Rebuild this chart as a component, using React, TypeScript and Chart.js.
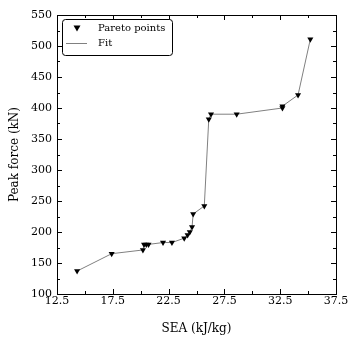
import React, { useEffect, useRef } from "react";
import { Chart, registerables } from "chart.js";

Chart.register(...registerables);

const seaValues = [14.3, 17.4, 20.2, 20.3, 20.5, 20.7, 22.0, 22.8, 23.9, 24.2, 24.4, 24.6, 24.7, 25.7, 26.1, 26.3, 28.6, 32.7, 32.7, 34.1, 35.2];
const forceValues = [137, 165, 171, 180, 180, 180, 183, 183, 190, 195, 200, 208, 229, 242, 382, 390, 390, 400, 403, 421, 511];
const xTickValues = [12.5, 17.5, 22.5, 27.5, 32.5, 37.5];
const yTickValues = [100, 150, 200, 250, 300, 350, 400, 450, 500, 550];
const legendLabels = ["Pareto points", "Fit"];
const xTitle = "SEA (kJ/kg)";
const yTitle = "Peak force (kN)";

const FONT = "'DejaVu Serif', 'Liberation Serif', serif";

const framePlugin = {
  id: "frame",
  afterDraw(chart: any) {
    const { ctx, chartArea: a, scales } = chart;
    const xs = scales.x;
    const ys = scales.y;
    ctx.save();
    ctx.strokeStyle = "#000";
    ctx.lineWidth = 1;
    ctx.strokeRect(Math.round(a.left) + 0.5, Math.round(a.top) + 0.5, Math.round(a.right - a.left), Math.round(a.bottom - a.top));
    ctx.beginPath();
    for (let v = 12.5; v <= 37.5001; v += 2.5) {
      const major = xTickValues.some((t) => Math.abs(t - v) < 1e-6);
      const len = major ? 5 : 3;
      const px = Math.round(xs.getPixelForValue(v)) + 0.5;
      ctx.moveTo(px, a.bottom);
      ctx.lineTo(px, a.bottom - len);
      ctx.moveTo(px, a.top);
      ctx.lineTo(px, a.top + len);
    }
    for (let v = 100; v <= 550.001; v += 25) {
      const major = yTickValues.some((t) => Math.abs(t - v) < 1e-6);
      const len = major ? 5 : 3;
      const py = Math.round(ys.getPixelForValue(v)) + 0.5;
      ctx.moveTo(a.left, py);
      ctx.lineTo(a.left + len, py);
      ctx.moveTo(a.right, py);
      ctx.lineTo(a.right - len, py);
    }
    ctx.stroke();

    // legend
    const lx = a.left + 5;
    const ly = a.top + 4;
    const lw = 110;
    const lh = 36;
    ctx.beginPath();
    const r = 3;
    ctx.moveTo(lx + r + 0.5, ly + 0.5);
    ctx.lineTo(lx + lw - r + 0.5, ly + 0.5);
    ctx.quadraticCurveTo(lx + lw + 0.5, ly + 0.5, lx + lw + 0.5, ly + r + 0.5);
    ctx.lineTo(lx + lw + 0.5, ly + lh - r + 0.5);
    ctx.quadraticCurveTo(lx + lw + 0.5, ly + lh + 0.5, lx + lw - r + 0.5, ly + lh + 0.5);
    ctx.lineTo(lx + r + 0.5, ly + lh + 0.5);
    ctx.quadraticCurveTo(lx + 0.5, ly + lh + 0.5, lx + 0.5, ly + lh - r + 0.5);
    ctx.lineTo(lx + 0.5, ly + r + 0.5);
    ctx.quadraticCurveTo(lx + 0.5, ly + 0.5, lx + r + 0.5, ly + 0.5);
    ctx.fillStyle = "#fff";
    ctx.fill();
    ctx.stroke();

    // marker
    const mx = lx + 15;
    const my = ly + 9;
    ctx.beginPath();
    ctx.moveTo(mx - 3.5, my - 2.5);
    ctx.lineTo(mx + 3.5, my - 2.5);
    ctx.lineTo(mx, my + 3.5);
    ctx.closePath();
    ctx.fillStyle = "#000";
    ctx.fill();
    // fit line
    ctx.beginPath();
    ctx.strokeStyle = "#808080";
    ctx.moveTo(lx + 4, ly + 24.5);
    ctx.lineTo(lx + 25, ly + 24.5);
    ctx.stroke();

    ctx.fillStyle = "#000";
    ctx.font = `10px ${FONT}`;
    ctx.textBaseline = "middle";
    ctx.textAlign = "left";
    ctx.fillText(legendLabels[0], lx + 36, my);
    ctx.fillText(legendLabels[1], lx + 36, ly + 24);
    ctx.restore();
  },
};

export default function App() {
  const ref = useRef<HTMLCanvasElement | null>(null);
  useEffect(() => {
    document.body.style.margin = "0";
    const pts = seaValues.map((x, i) => ({ x, y: forceValues[i] }));
    const chart = new Chart(ref.current as HTMLCanvasElement, {
      type: "scatter",
      data: {
        datasets: [
          {
            label: legendLabels[1],
            data: pts,
            showLine: true,
            borderColor: "#808080",
            borderWidth: 1,
            pointRadius: 0,
            order: 2,
          },
          {
            label: legendLabels[0],
            data: pts,
            showLine: false,
            pointStyle: "triangle",
            rotation: 180,
            pointRadius: 3.5,
            backgroundColor: "#000",
            borderColor: "#000",
            borderWidth: 0,
            order: 1,
          },
        ],
      },
      options: {
        responsive: false,
        animation: false,
        layout: { padding: { top: 15, right: 14, left: 8, bottom: 14 } },
        plugins: { legend: { display: false }, tooltip: { enabled: false } },
        scales: {
          x: {
            type: "linear",
            min: 12.5,
            max: 37.5,
            afterFit: (s: any) => {
              s.height = 42;
            },
            ticks: {
              stepSize: 2.5,
              autoSkip: false,
              maxRotation: 0,
              padding: 1,
              color: "#000",
              font: { family: FONT, size: 11 },
              callback: (v: any) => {
                const n = Number(v);
                return xTickValues.some((t) => Math.abs(t - n) < 1e-6) ? n.toFixed(1) : "";
              },
            },
            grid: { display: false, drawTicks: false },
            border: { display: false },
            title: { display: true, text: xTitle, color: "#000", font: { family: FONT, size: 12 }, padding: { top: 4, bottom: 0 } },
          },
          y: {
            type: "linear",
            min: 100,
            max: 550,
            afterFit: (s: any) => {
              s.width = 49;
            },
            ticks: {
              stepSize: 25,
              autoSkip: false,
              padding: 5,
              color: "#000",
              font: { family: FONT, size: 11 },
              callback: (v: any) => {
                const n = Number(v);
                return yTickValues.includes(n) ? String(n) : "";
              },
            },
            grid: { display: false, drawTicks: false },
            border: { display: false },
            title: { display: true, text: yTitle, color: "#000", font: { family: FONT, size: 12 }, padding: { top: 0, bottom: 0 } },
          },
        },
      },
      plugins: [framePlugin],
    });
    return () => chart.destroy();
  }, []);
  return (
    <div style={{ position: "absolute", left: 0, top: 0, width: 350, height: 350 }}>
      <canvas ref={ref} width={350} height={350} style={{ width: 350, height: 350 }} />
    </div>
  );
}
